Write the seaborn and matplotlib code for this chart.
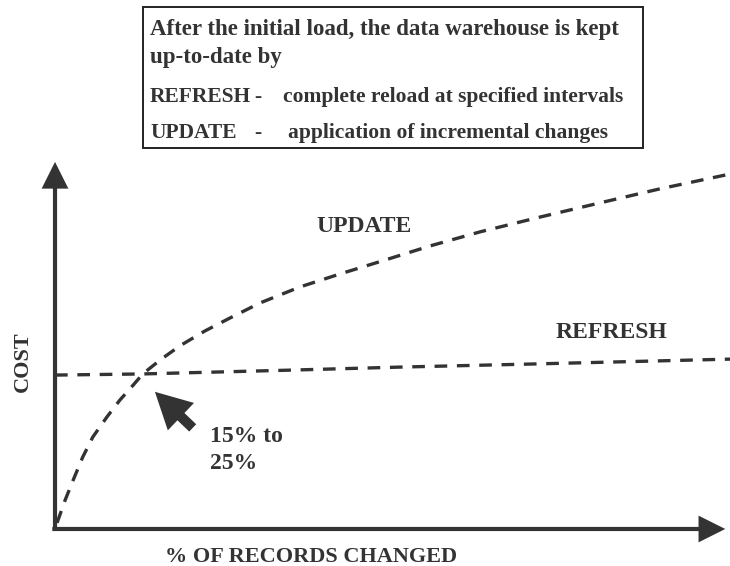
import matplotlib
matplotlib.use("Agg")
import matplotlib.pyplot as plt
from matplotlib.patches import Rectangle
import seaborn as sns
import pandas as pd

# % of records changed vs. cost (arbitrary units)
update_pct = [0.3, 1.5, 2.7, 4.1, 5.6, 7.7, 9.6, 11.6, 13.0, 15.6, 18.5, 22.2,
              25.9, 30.4, 36.3, 42.2, 48.4, 55.6, 63.0, 71.9, 80.7, 89.6, 100]
update_cost = [1.6, 7.6, 12.9, 18.9, 24.2, 29.5, 33.9, 37.9, 40.8, 44.5, 48.2, 52.1,
               55.5, 59.5, 63.7, 67.1, 70.5, 74.5, 78.2, 82.1, 85.8, 89.5, 93.4]
refresh_pct = [0, 13.0, 34.8, 51.1, 70.4, 100]
refresh_cost = [40.5, 40.8, 41.8, 42.6, 43.4, 44.7]

box_title = "After the initial load, the data warehouse is kept\nup-to-date by"
box_rows = [("REFRESH", "complete reload at specified intervals"),
            ("UPDATE", "application of incremental changes")]

INK = "#333333"
W, H = 730, 566

sns.set_theme(style="white")
plt.rcParams["font.family"] = ["Liberation Serif", "DejaVu Serif"]
plt.rcParams["font.weight"] = "bold"

df = pd.concat([
    pd.DataFrame({"pct": update_pct, "cost": update_cost, "method": "UPDATE"}),
    pd.DataFrame({"pct": refresh_pct, "cost": refresh_cost, "method": "REFRESH"}),
])

fig = plt.figure(figsize=(W / 100, H / 100), dpi=100)
ax = fig.add_axes([0, 0, 1, 1])

sns.lineplot(data=df, x="pct", y="cost", units="method", estimator=None,
             color=INK, lw=2.4, ax=ax, legend=False)
for line in ax.lines:
    line.set_dashes((3.8, 2.9))
    line.set_solid_capstyle("butt")

ax.set_xlim(-8.15, 100)
ax.set_ylim(-9.74, 139.2)
ax.axis("off")

# axes with arrow heads
axis_style = "-|>,head_length=0.72,head_width=0.36"
ax.annotate("", xy=(0, 96.6), xytext=(0, -0.5),
            arrowprops=dict(arrowstyle=axis_style, lw=3, color=INK, joinstyle="miter",
                            capstyle="butt", mutation_scale=20, shrinkA=0, shrinkB=0))
ax.annotate("", xy=(99.3, 0), xytext=(-0.4, 0),
            arrowprops=dict(arrowstyle=axis_style, lw=3, color=INK, joinstyle="miter",
                            capstyle="butt", mutation_scale=20, shrinkA=0, shrinkB=0))

ax.text(-4.74, 43.9, "COST", rotation=90, ha="center", va="center",
        fontsize=16, color=INK, fontweight="bold")
ax.text(37.9, -7.3, "% OF RECORDS CHANGED", ha="center", va="center",
        fontsize=16, color=INK, fontweight="bold")

ax.text(45.8, 79.7, "UPDATE", ha="center", va="center", fontsize=17,
        color=INK, fontweight="bold")
ax.text(82.5, 51.6, "REFRESH", ha="center", va="center", fontsize=17,
        color=INK, fontweight="bold")

# crossover pointer
ax.annotate("", xy=(14.8, 36.1), xytext=(20.4, 26.6),
            arrowprops=dict(arrowstyle="simple,head_length=1.85,head_width=1.95,tail_width=0.52",
                            mutation_scale=14, color=INK, lw=0, shrinkA=0, shrinkB=0))
ax.text(23.0, 20.8, "15% to\n25%", ha="left", va="center", fontsize=17,
        color=INK, fontweight="bold", linespacing=1.4)

# legend box at top
def fx(px):
    return px / W

def fy(py):
    return 1 - py / H

fig.patches.append(Rectangle((fx(143), fy(148)), fx(643) - fx(143), fy(7) - fy(148),
                             transform=fig.transFigure, fill=False,
                             edgecolor="#222222", lw=1.4))
fig.text(fx(150), fy(43.5), box_title, ha="left", va="center", fontsize=16.5,
         color=INK, fontweight="bold", linespacing=1.45)
for (name, desc), py, dx in zip(box_rows, [97, 133], [283, 288]):
    fig.text(fx(150), fy(py), name, ha="left", va="center", fontsize=15.5,
             color=INK, fontweight="bold")
    fig.text(fx(258), fy(py), "-", ha="center", va="center", fontsize=15.5,
             color=INK, fontweight="bold")
    fig.text(fx(dx), fy(py), desc, ha="left", va="center", fontsize=15.5,
             color=INK, fontweight="bold")

fig.savefig("out.png", dpi=100, facecolor="white")
